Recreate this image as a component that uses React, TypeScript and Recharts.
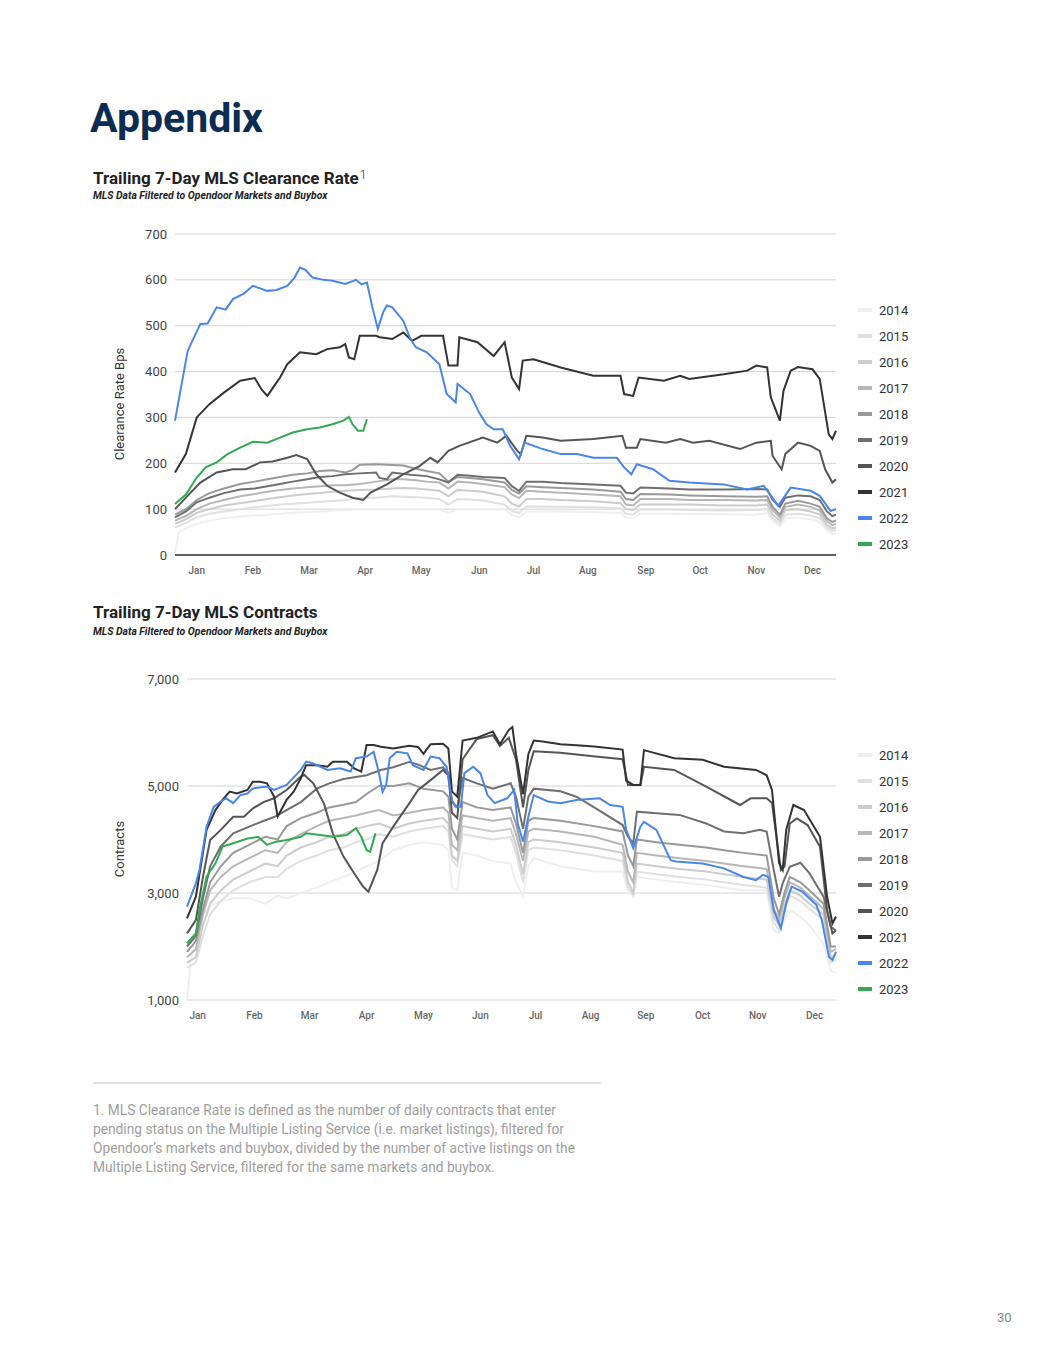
import React from "react";
import { LineChart, Line, XAxis, YAxis, CartesianGrid } from "recharts";

// ---- shared labels ----
const months = ["Jan", "Feb", "Mar", "Apr", "May", "Jun", "Jul", "Aug", "Sep", "Oct", "Nov", "Dec"];
const years = ["2014", "2015", "2016", "2017", "2018", "2019", "2020", "2021", "2022", "2023"];
const yearColors: Record<string, string> = {
  "2014": "#efefef",
  "2015": "#e0e0e0",
  "2016": "#cccccc",
  "2017": "#b7b7b7",
  "2018": "#999999",
  "2019": "#6f6f6f",
  "2020": "#555555",
  "2021": "#333333",
  "2022": "#4a86e8",
  "2023": "#34a853",
};

// ---- chart 1: clearance rate (x = day of year) ----
const rateMonthTicks = [12, 43, 74, 105, 136, 168, 198, 228, 260, 290, 321, 352];
const rateYTicks = [0, 100, 200, 300, 400, 500, 600, 700];

const rate2014: [number, number][] = [[0, 5], [2, 50], [6, 58], [12, 68], [19, 75], [27, 80], [36, 84], [44, 86], [51, 88], [58, 90], [65, 92], [73, 94], [80, 95], [87, 97], [94, 98], [102, 100], [111, 100], [120, 100], [133, 99], [139, 100], [146, 99], [151, 92], [156, 100], [170, 99], [182, 99], [186, 88], [190, 82], [194, 95], [213, 95], [231, 93], [246, 92], [249, 82], [253, 80], [257, 90], [273, 90], [303, 89], [321, 88], [327, 92], [330, 74], [334, 62], [337, 80], [344, 82], [351, 78], [356, 72], [360, 54], [363, 45], [365, 48]];
const rate2015: [number, number][] = [[0, 60], [6, 70], [12, 82], [19, 90], [27, 95], [36, 100], [44, 104], [51, 107], [58, 110], [65, 112], [73, 114], [80, 116], [87, 118], [94, 120], [102, 125], [111, 125], [120, 128], [133, 126], [139, 125], [146, 122], [151, 110], [156, 122], [163, 121], [170, 119], [182, 110], [186, 96], [190, 92], [194, 106], [213, 105], [231, 104], [246, 102], [249, 90], [253, 88], [257, 100], [273, 99], [284, 98], [303, 97], [321, 98], [327, 100], [330, 80], [334, 68], [337, 88], [344, 90], [351, 86], [356, 80], [360, 60], [363, 52], [365, 55]];
const rate2016: [number, number][] = [[0, 68], [6, 78], [12, 92], [19, 100], [27, 108], [36, 113], [44, 118], [51, 122], [58, 126], [65, 130], [73, 133], [80, 135], [87, 138], [94, 140], [102, 142], [111, 143], [120, 145], [126, 146], [133, 145], [139, 143], [146, 140], [151, 128], [156, 142], [163, 140], [170, 138], [182, 128], [186, 112], [190, 106], [194, 122], [203, 122], [213, 120], [231, 117], [246, 113], [249, 100], [253, 98], [257, 110], [273, 110], [284, 110], [303, 108], [321, 108], [327, 110], [330, 88], [334, 75], [337, 98], [344, 100], [351, 95], [356, 88], [360, 66], [363, 58], [365, 60]];
const rate2017: [number, number][] = [[0, 75], [6, 85], [12, 100], [19, 112], [27, 120], [36, 128], [44, 133], [51, 138], [58, 142], [65, 145], [73, 148], [80, 150], [87, 152], [94, 152], [102, 155], [111, 160], [120, 165], [126, 165], [133, 163], [139, 160], [146, 158], [151, 145], [156, 160], [163, 158], [170, 155], [182, 148], [186, 132], [190, 124], [194, 140], [203, 138], [213, 136], [231, 132], [246, 128], [249, 110], [253, 108], [257, 122], [273, 122], [284, 120], [303, 120], [321, 119], [327, 120], [330, 98], [334, 82], [337, 105], [344, 110], [351, 105], [356, 97], [360, 74], [363, 65], [365, 68]];
const rate2018: [number, number][] = [[0, 88], [6, 100], [12, 120], [19, 135], [27, 145], [36, 155], [44, 160], [51, 165], [58, 170], [65, 175], [73, 178], [80, 183], [87, 185], [94, 180], [98, 185], [102, 197], [111, 198], [120, 196], [126, 195], [133, 188], [139, 183], [146, 178], [151, 160], [156, 170], [163, 168], [170, 165], [182, 158], [186, 142], [190, 134], [194, 150], [203, 148], [213, 146], [231, 143], [246, 138], [249, 122], [253, 120], [257, 133], [273, 132], [284, 130], [303, 128], [321, 127], [327, 128], [330, 105], [334, 88], [337, 112], [344, 118], [351, 112], [356, 105], [360, 80], [363, 72], [365, 75]];
const rate2019: [number, number][] = [[0, 82], [6, 95], [12, 115], [19, 125], [27, 135], [36, 143], [44, 145], [51, 150], [58, 155], [65, 160], [73, 165], [80, 170], [87, 172], [94, 176], [102, 178], [111, 180], [113, 168], [117, 165], [120, 180], [130, 175], [139, 172], [146, 165], [151, 158], [156, 175], [163, 173], [170, 170], [182, 168], [186, 150], [190, 140], [194, 160], [203, 160], [213, 157], [231, 154], [246, 151], [249, 136], [253, 134], [257, 147], [273, 145], [284, 143], [303, 143], [321, 144], [327, 143], [330, 120], [334, 105], [337, 125], [344, 130], [351, 128], [356, 120], [360, 95], [363, 85], [365, 88]];
const rate2020: [number, number][] = [[0, 100], [6, 125], [14, 158], [23, 180], [32, 187], [39, 187], [47, 202], [54, 204], [62, 212], [67, 218], [73, 209], [78, 176], [84, 151], [91, 136], [98, 125], [104, 120], [108, 136], [117, 154], [126, 176], [135, 194], [141, 212], [145, 202], [151, 227], [157, 238], [170, 256], [178, 245], [183, 260], [189, 227], [191, 220], [194, 260], [203, 256], [213, 249], [231, 253], [247, 260], [249, 234], [255, 234], [257, 253], [271, 245], [279, 253], [286, 245], [295, 249], [312, 231], [321, 245], [329, 249], [330, 216], [335, 187], [337, 220], [344, 245], [351, 238], [356, 227], [359, 187], [363, 158], [365, 165]];
const rate2021: [number, number][] = [[0, 180], [6, 220], [12, 300], [19, 329], [27, 354], [36, 380], [44, 386], [48, 360], [51, 347], [55, 370], [58, 387], [62, 416], [69, 442], [78, 438], [84, 449], [91, 453], [94, 460], [96, 431], [99, 427], [102, 478], [111, 478], [113, 475], [120, 471], [126, 485], [131, 467], [136, 478], [148, 478], [151, 413], [156, 413], [157, 475], [167, 464], [176, 434], [182, 464], [186, 387], [190, 362], [192, 424], [198, 427], [213, 409], [231, 391], [246, 391], [248, 351], [253, 347], [256, 387], [270, 380], [279, 391], [284, 384], [303, 394], [316, 402], [321, 413], [327, 409], [329, 344], [334, 293], [336, 358], [340, 402], [344, 410], [352, 405], [356, 384], [361, 263], [363, 253], [365, 271]];
const rate2022: [number, number][] = [[0, 293], [7, 445], [14, 504], [18, 505], [23, 540], [28, 535], [32, 558], [38, 570], [43, 587], [51, 576], [56, 578], [62, 587], [66, 605], [69, 627], [72, 622], [76, 605], [82, 600], [87, 598], [94, 591], [100, 600], [103, 590], [106, 594], [109, 540], [112, 493], [115, 530], [117, 544], [120, 540], [126, 511], [130, 471], [133, 453], [139, 442], [146, 416], [150, 351], [155, 333], [156, 373], [163, 351], [168, 310], [172, 285], [176, 274], [181, 274], [185, 238], [190, 209], [193, 245], [203, 231], [213, 220], [222, 220], [231, 212], [244, 212], [248, 191], [252, 176], [255, 198], [264, 187], [273, 162], [284, 158], [303, 154], [316, 143], [325, 151], [329, 130], [333, 107], [340, 147], [351, 140], [356, 129], [362, 96], [365, 100]];
const rate2023: [number, number][] = [[0, 111], [6, 132], [12, 169], [17, 191], [23, 202], [29, 220], [36, 234], [43, 247], [51, 245], [58, 256], [65, 267], [73, 274], [80, 278], [87, 285], [93, 293], [96, 301], [98, 285], [101, 271], [104, 271], [106, 296]];

// ---- chart 2: contracts (x = position along the year) ----
const contractMonthTicks = [6, 38, 69, 101, 133, 165, 196, 227, 258, 290, 321, 353];
const contractYTicks = [1000, 3000, 5000, 7000];

const con2014: [number, number][] = [[0, 1000], [2, 1700], [5, 2300], [9, 2600], [13, 2750], [19, 2850], [26, 2900], [35, 2900], [44, 2800], [51, 2950], [56, 2900], [64, 3000], [73, 3100], [80, 3200], [88, 3300], [95, 3400], [101, 3500], [108, 3600], [116, 3800], [125, 3900], [133, 3950], [144, 3900], [147, 3800], [149, 3100], [152, 3050], [155, 3750], [163, 3700], [172, 3600], [182, 3550], [185, 3200], [189, 2950], [192, 3500], [195, 3650], [210, 3500], [229, 3400], [245, 3400], [248, 3000], [251, 2950], [253, 3300], [264, 3250], [277, 3200], [292, 3150], [302, 3100], [313, 3050], [326, 3050], [330, 2300], [333, 2250], [336, 2500], [339, 2680], [345, 2550], [350, 2400], [358, 2050], [362, 1560], [365, 1500]];
const con2015: [number, number][] = [[0, 1600], [5, 1700], [9, 2200], [13, 2600], [19, 2850], [26, 3050], [35, 3200], [44, 3300], [51, 3300], [56, 3450], [64, 3600], [73, 3700], [80, 3800], [88, 3850], [95, 3950], [101, 4000], [108, 4100], [116, 4050], [125, 4150], [133, 4200], [144, 4250], [147, 4150], [149, 3600], [152, 3500], [155, 4100], [163, 4050], [172, 4000], [182, 4050], [185, 3750], [189, 3200], [192, 3800], [195, 3850], [210, 3800], [229, 3700], [245, 3600], [248, 3100], [251, 2950], [253, 3400], [264, 3350], [277, 3300], [292, 3250], [302, 3200], [313, 3150], [326, 3100], [330, 2450], [333, 2300], [336, 2650], [339, 2950], [345, 2850], [350, 2700], [358, 2500], [362, 1700], [365, 1750]];
const con2016: [number, number][] = [[0, 1700], [5, 1800], [9, 2400], [13, 2800], [19, 3050], [26, 3250], [35, 3400], [44, 3550], [51, 3500], [56, 3700], [64, 3850], [73, 3950], [80, 4050], [88, 4100], [95, 4200], [101, 4250], [108, 4300], [116, 4200], [125, 4300], [133, 4350], [144, 4400], [147, 4300], [149, 3700], [152, 3600], [155, 4250], [163, 4200], [172, 4150], [182, 4200], [185, 3900], [189, 3350], [192, 3950], [195, 4000], [210, 3950], [229, 3850], [245, 3750], [248, 3200], [251, 3000], [253, 3550], [264, 3500], [277, 3450], [292, 3400], [302, 3350], [313, 3300], [326, 3250], [330, 2550], [333, 2400], [336, 2750], [339, 3050], [345, 2950], [350, 2800], [358, 2600], [362, 1800], [365, 1850]];
const con2017: [number, number][] = [[0, 1800], [5, 1950], [9, 2600], [13, 3050], [19, 3300], [26, 3500], [35, 3650], [44, 3800], [51, 3750], [56, 3950], [64, 4100], [73, 4250], [80, 4350], [88, 4400], [95, 4450], [101, 4500], [108, 4550], [116, 4450], [125, 4500], [133, 4550], [144, 4600], [147, 4500], [149, 3900], [152, 3800], [155, 4450], [163, 4400], [172, 4350], [182, 4400], [185, 4100], [189, 3600], [192, 4150], [195, 4200], [210, 4150], [229, 4050], [245, 3900], [248, 3400], [251, 3200], [253, 3750], [264, 3700], [277, 3650], [292, 3600], [302, 3550], [313, 3500], [326, 3450], [330, 2700], [333, 2500], [336, 2900], [339, 3200], [345, 3100], [350, 2950], [358, 2700], [362, 1900], [365, 1950]];
const con2018: [number, number][] = [[0, 1900], [5, 2100], [9, 2700], [13, 3200], [19, 3500], [26, 3750], [35, 3900], [44, 4050], [51, 4000], [56, 4250], [64, 4400], [73, 4500], [80, 4600], [88, 4650], [95, 4700], [101, 4850], [108, 5000], [116, 5000], [125, 5050], [133, 4950], [144, 4900], [147, 4800], [149, 4200], [152, 4000], [155, 4700], [163, 4600], [172, 4550], [182, 4600], [185, 4300], [189, 3750], [192, 4350], [195, 4400], [210, 4350], [229, 4250], [245, 4150], [248, 3700], [251, 3500], [253, 4000], [264, 3950], [277, 3900], [292, 3850], [302, 3800], [313, 3750], [326, 3700], [330, 2900], [333, 2600], [336, 3000], [339, 3300], [345, 3200], [350, 3050], [358, 2800], [362, 2000], [365, 2000]];
const con2019: [number, number][] = [[0, 2000], [5, 2200], [9, 2900], [13, 3500], [19, 3870], [26, 4115], [35, 4240], [44, 4360], [49, 4420], [56, 4550], [64, 4700], [73, 4950], [80, 5050], [88, 5130], [95, 5170], [101, 5200], [109, 5300], [116, 5350], [125, 5450], [130, 5400], [137, 5300], [144, 5350], [147, 5250], [149, 4700], [152, 4600], [155, 5150], [163, 5050], [172, 4950], [182, 5050], [185, 4800], [189, 4200], [192, 4800], [195, 4950], [210, 4900], [219, 4800], [229, 4600], [245, 4270], [248, 4050], [251, 3930], [253, 4520], [264, 4490], [277, 4460], [292, 4300], [302, 4150], [313, 4115], [322, 4180], [326, 4150], [330, 3430], [333, 2930], [335, 3180], [339, 3490], [345, 3565], [350, 3370], [358, 2930], [362, 2370], [365, 2300]];
const con2020: [number, number][] = [[0, 2246], [5, 2495], [9, 3305], [13, 3990], [19, 4180], [26, 4425], [32, 4425], [37, 4580], [43, 4700], [49, 4770], [56, 4925], [64, 5175], [66, 5205], [71, 5050], [77, 4675], [82, 4115], [88, 3680], [94, 3370], [99, 3120], [102, 3025], [107, 3430], [110, 3930], [116, 4240], [125, 4675], [130, 4925], [137, 5110], [144, 5300], [147, 5200], [149, 4500], [152, 4400], [155, 5500], [163, 5880], [172, 5950], [176, 5750], [181, 5900], [185, 5500], [189, 4600], [192, 5300], [195, 5650], [210, 5620], [227, 5560], [245, 5500], [248, 5020], [255, 5020], [257, 5360], [274, 5300], [292, 4990], [311, 4645], [317, 4770], [326, 4770], [329, 4680], [334, 3430], [336, 3490], [339, 4300], [343, 4395], [349, 4270], [356, 3865], [360, 2680], [363, 2245], [365, 2300]];
const con2021: [number, number][] = [[0, 2526], [5, 2930], [8, 3555], [11, 4180], [16, 4550], [20, 4740], [24, 4895], [28, 4860], [34, 4925], [37, 5080], [41, 5080], [45, 5050], [49, 4800], [51, 4430], [56, 4740], [60, 4895], [64, 5145], [67, 5390], [73, 5390], [79, 5360], [82, 5455], [90, 5455], [94, 5330], [98, 5270], [101, 5765], [105, 5765], [109, 5735], [116, 5700], [125, 5750], [130, 5730], [133, 5600], [137, 5780], [144, 5790], [147, 5700], [149, 4900], [152, 4800], [155, 5850], [163, 5900], [172, 6020], [176, 5780], [181, 6050], [183, 6100], [185, 5600], [189, 4850], [192, 5600], [195, 5850], [200, 5830], [210, 5780], [219, 5760], [229, 5740], [245, 5680], [247, 5100], [251, 5020], [255, 5020], [257, 5670], [274, 5520], [290, 5490], [302, 5360], [320, 5300], [326, 5200], [329, 4925], [333, 3555], [335, 3430], [337, 4180], [341, 4645], [347, 4550], [356, 4050], [360, 2930], [363, 2430], [365, 2560]];
const con2022: [number, number][] = [[0, 2744], [5, 3180], [7, 3430], [11, 4240], [15, 4610], [19, 4710], [22, 4770], [26, 4680], [30, 4830], [34, 4860], [37, 4955], [45, 4990], [49, 4925], [56, 5020], [64, 5300], [67, 5455], [71, 5420], [79, 5300], [86, 5330], [92, 5270], [95, 5520], [101, 5550], [105, 5640], [108, 5240], [110, 4890], [112, 5020], [114, 5520], [118, 5640], [124, 5610], [127, 5390], [133, 5300], [137, 5550], [142, 5520], [146, 5360], [149, 4740], [151, 4610], [154, 4610], [156, 5240], [161, 5360], [165, 5240], [169, 4830], [173, 4680], [180, 4770], [184, 4925], [186, 4300], [189, 3960], [192, 4430], [195, 4830], [203, 4710], [210, 4680], [219, 4740], [232, 4770], [238, 4645], [245, 4610], [247, 4180], [251, 3835], [255, 4240], [257, 4330], [264, 4180], [272, 3615], [275, 3590], [290, 3550], [302, 3460], [313, 3300], [320, 3240], [324, 3340], [327, 3300], [330, 2680], [334, 2340], [337, 2807], [340, 3120], [346, 3025], [354, 2775], [357, 2500], [361, 1810], [363, 1750], [365, 1900]];
const con2023: [number, number][] = [[0, 2060], [5, 2246], [7, 2680], [11, 3305], [16, 3555], [20, 3866], [26, 3930], [34, 4020], [40, 4050], [45, 3900], [50, 3960], [56, 3990], [64, 4050], [67, 4115], [75, 4085], [82, 4050], [90, 4085], [95, 4210], [98, 4050], [101, 3800], [103, 3770], [106, 4115]];

const rateSeries = [rate2014, rate2015, rate2016, rate2017, rate2018, rate2019, rate2020, rate2021, rate2022, rate2023];
const contractSeries = [con2014, con2015, con2016, con2017, con2018, con2019, con2020, con2021, con2022, con2023];

function buildRows(series: [number, number][][]) {
  const map = new Map<number, any>();
  series.forEach((pts, i) => {
    pts.forEach(([d, v]) => {
      const row = map.get(d) ?? { day: d };
      row[years[i]] = v;
      map.set(d, row);
    });
  });
  return [...map.values()].sort((a, b) => a.day - b.day);
}

const FONT = "Roboto, 'Noto Sans', sans-serif";

interface ChartProps {
  top: number;
  rows: any[];
  xTicks: number[];
  yDomain: [number, number];
  yTicks: number[];
  yFmt: (v: number) => string;
  leftMargin: number;
  darkBase: boolean;
  yLabel: string;
  yLabelCenter: number;
}

function TrendChart({ top, rows, xTicks, yDomain, yTicks, yFmt, leftMargin, darkBase, yLabel, yLabelCenter }: ChartProps) {
  return (
    <div style={{ position: "absolute", left: 0, top, width: 1055, height: 370 }}>
      <LineChart width={1055} height={370} data={rows} margin={{ top: 14, right: 219, bottom: 5, left: leftMargin }} style={{ fontFamily: FONT }}>
        <CartesianGrid vertical={false} stroke="#d4d4d4" />
        <XAxis
          type="number"
          dataKey="day"
          domain={[0, 365]}
          ticks={xTicks}
          interval={0}
          tickFormatter={(v) => months[xTicks.indexOf(v)]}
          tickLine={false}
          axisLine={darkBase ? { stroke: "#333", strokeWidth: 1.3 } : false}
          tickMargin={6}
          tick={{ fontSize: 10, fill: "#666", fontWeight: 500, fontFamily: FONT }}
        />
        <YAxis
          width={60}
          domain={yDomain}
          ticks={yTicks}
          interval={0}
          tickFormatter={yFmt}
          axisLine={false}
          tickLine={false}
          tick={{ fontSize: 13, fill: "#444", fontFamily: FONT }}
        />
        {years.map((y) => (
          <Line
            key={y}
            dataKey={y}
            type="linear"
            stroke={yearColors[y]}
            strokeWidth={2}
            dot={false}
            connectNulls
            isAnimationActive={false}
          />
        ))}
      </LineChart>
      <div
        style={{
          position: "absolute",
          left: 20,
          top: yLabelCenter - top - 8,
          width: 200,
          height: 16,
          lineHeight: "16px",
          textAlign: "center",
          transform: "rotate(-90deg)",
          fontSize: 13,
          color: "#333",
          fontFamily: FONT,
        }}
      >
        {yLabel}
      </div>
      <div style={{ position: "absolute", left: 858, top: 77, fontFamily: FONT }}>
        {years.map((y) => (
          <div key={y} style={{ height: 26, display: "flex", alignItems: "center" }}>
            <span style={{ width: 14, height: 4, background: yearColors[y], display: "inline-block", marginRight: 7 }} />
            <span style={{ fontSize: 13, color: "#333" }}>{y}</span>
          </div>
        ))}
      </div>
    </div>
  );
}

export default function App() {
  const rateRows = buildRows(rateSeries);
  const contractRows = buildRows(contractSeries);
  return (
    <div style={{ position: "absolute", left: 0, top: 0, width: 1055, height: 1365, background: "#fff", fontFamily: FONT }}>
      <div style={{ position: "absolute", left: 90, top: 98, fontSize: 41, lineHeight: "41px", fontWeight: 700, color: "#0c2d52" }}>
        Appendix
      </div>

      <div style={{ position: "absolute", left: 93, top: 170, fontSize: 17, lineHeight: "17px", fontWeight: 700, color: "#222", whiteSpace: "nowrap" }}>
        Trailing 7-Day MLS Clearance Rate
        <span style={{ fontSize: 12, fontWeight: 300, position: "relative", top: -5, marginLeft: 1 }}>1</span>
      </div>
      <div style={{ position: "absolute", left: 93, top: 191, fontSize: 10.4, lineHeight: "10.4px", fontWeight: 700, fontStyle: "italic", color: "#222", whiteSpace: "nowrap" }}>
        MLS Data Filtered to Opendoor Markets and Buybox
      </div>

      <TrendChart
        top={220}
        rows={rateRows}
        xTicks={rateMonthTicks}
        yDomain={[0, 700]}
        yTicks={rateYTicks}
        yFmt={(v) => String(v)}
        leftMargin={115}
        darkBase={true}
        yLabel="Clearance Rate Bps"
        yLabelCenter={404}
      />

      <div style={{ position: "absolute", left: 93, top: 604, fontSize: 17, lineHeight: "17px", fontWeight: 700, color: "#222", whiteSpace: "nowrap" }}>
        Trailing 7-Day MLS Contracts
      </div>
      <div style={{ position: "absolute", left: 93, top: 627, fontSize: 10.4, lineHeight: "10.4px", fontWeight: 700, fontStyle: "italic", color: "#222", whiteSpace: "nowrap" }}>
        MLS Data Filtered to Opendoor Markets and Buybox
      </div>

      <TrendChart
        top={665}
        rows={contractRows}
        xTicks={contractMonthTicks}
        yDomain={[1000, 7000]}
        yTicks={contractYTicks}
        yFmt={(v) => v.toLocaleString("en-US")}
        leftMargin={127}
        darkBase={false}
        yLabel="Contracts"
        yLabelCenter={849}
      />

      <div style={{ position: "absolute", left: 93, top: 1082, width: 508, height: 2, background: "#e0e0e0" }} />
      <div style={{ position: "absolute", left: 93, top: 1101, fontSize: 13.75, lineHeight: "19px", color: "#9e9e9e", whiteSpace: "nowrap" }}>
        1. MLS Clearance Rate is defined as the number of daily contracts that enter
        <br />
        pending status on the Multiple Listing Service (i.e. market listings), filtered for
        <br />
        Opendoor’s markets and buybox, divided by the number of active listings on the
        <br />
        Multiple Listing Service, filtered for the same markets and buybox.
      </div>

      <div style={{ position: "absolute", left: 997, top: 1311, fontSize: 13, lineHeight: "13px", color: "#888" }}>30</div>
    </div>
  );
}
